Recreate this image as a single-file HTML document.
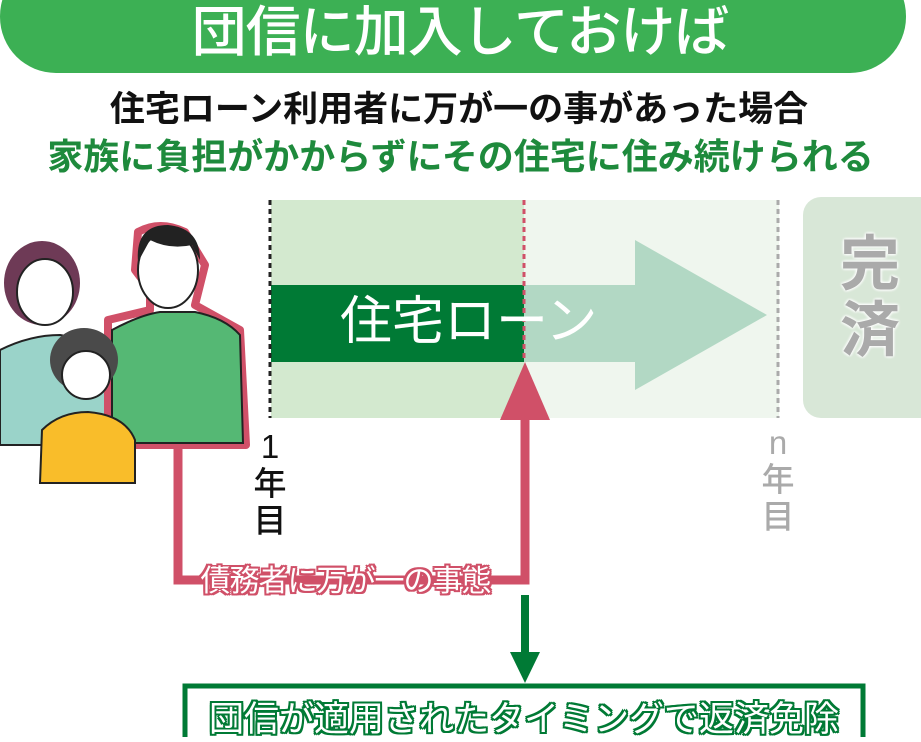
<!DOCTYPE html>
<html><head><meta charset="utf-8"><style>
body{margin:0;width:921px;height:737px;overflow:hidden;background:#fff;font-family:"Liberation Sans","Noto Sans CJK JP",sans-serif;position:relative}
.a{position:absolute}
.t{white-space:nowrap;text-align:center}
</style></head><body>
<div class="a" style="left:0;top:-40px;width:906px;height:113px;background:#3cb054;border-radius:56px"></div>
<div class="a t" style="left:0;top:1px;width:920px;font-size:55px;line-height:62px;color:#fff;font-weight:500;letter-spacing:-1px">団信に加入しておけば</div>
<div class="a t" style="left:0;top:90px;width:918px;font-size:35px;line-height:40px;color:#111;font-weight:bold">住宅ローン利用者に万が一の事があった場合</div>
<div class="a t" style="left:0;top:136px;width:921px;font-size:36px;line-height:42px;color:#1e8a3c;font-weight:bold">家族に負担がかからずにその住宅に住み続けられる</div>

<svg class="a" style="left:0;top:0" width="921" height="737">
<rect x="271" y="200" width="253" height="218" fill="#d3e9cf"/>
<rect x="524" y="200" width="255" height="218" fill="#eff6ee"/>
<rect x="524" y="285" width="112" height="77" fill="#b2d8c4"/>
<polygon points="635,240 767,315 635,390" fill="#b2d8c4"/>
<rect x="271" y="285" width="253" height="77" fill="#007a35"/>
<line x1="270" y1="200" x2="270" y2="418" stroke="#222" stroke-width="3" stroke-dasharray="5,4"/>
<line x1="524" y1="200" x2="524" y2="362" stroke="#d05068" stroke-width="3" stroke-dasharray="5,4"/>
<line x1="778" y1="200" x2="778" y2="418" stroke="#aaa" stroke-width="3" stroke-dasharray="5,4"/>
<rect x="803" y="197" width="140" height="221" rx="18" fill="#d8e7d7"/>
<path d="M0,350 Q30,335 60,335 Q95,340 115,360 L115,445 L0,445Z" fill="#9ad3c9" stroke="#222" stroke-width="2"/>
<ellipse cx="42" cy="283" rx="38" ry="42" fill="#6e3a56"/>
<ellipse cx="45" cy="292" rx="28" ry="33" fill="#fff" stroke="#222" stroke-width="2"/>
<path d="M108,320 L150,310 L150,290 L135,270 L138,232 Q160,220 185,232 L205,265 L195,305 L240,330 L246,445 L108,445Z" fill="none" stroke="#d05068" stroke-width="8" stroke-linejoin="round"/>
<path d="M112,330 Q140,315 160,312 L195,312 Q225,318 240,335 L243,443 L112,443Z" fill="#55b874" stroke="#222" stroke-width="2"/>
<ellipse cx="168" cy="270" rx="30" ry="38" fill="#fff" stroke="#222" stroke-width="2"/>
<path d="M138,262 Q135,225 168,225 Q200,228 200,260 L192,245 Q170,250 150,240Z" fill="#222"/>
<path d="M40,483 L42,430 Q60,412 88,412 Q125,415 135,440 L135,483Z" fill="#f9bd2a" stroke="#222" stroke-width="2"/>
<ellipse cx="84" cy="360" rx="34" ry="32" fill="#4a4a4a"/>
<ellipse cx="86" cy="375" rx="24" ry="24" fill="#fff" stroke="#222" stroke-width="2"/>
<path d="M178,445 L178,580 L525,580 L525,410" fill="none" stroke="#d05068" stroke-width="9"/>
<polygon points="525,362 500,420 550,420" fill="#d05068"/>
<line x1="525" y1="595" x2="525" y2="655" stroke="#007a35" stroke-width="8"/>
<polygon points="510,652 540,652 525,683" fill="#007a35"/>
<rect x="185" y="686" width="678" height="70" fill="#fff" stroke="#007a35" stroke-width="5"/>
</svg>

<div class="a t" style="left:340px;top:290px;font-size:52px;line-height:64px;color:#fff">住宅ローン</div>
<div class="a t" style="left:820px;top:232px;width:100px;font-size:60px;line-height:66px;color:#aaa;font-weight:bold;text-shadow:0 0 3px #fff,0 0 3px #fff,0 0 3px #fff">完<br>済</div>
<div class="a t" style="left:245px;top:428px;width:50px;font-size:33px;line-height:37px;color:#111;font-weight:500">1<br>年<br>目</div>
<div class="a t" style="left:753px;top:424px;width:50px;font-size:33px;line-height:37px;color:#aaa;font-weight:500">n<br>年<br>目</div>
<div class="a t" style="left:188px;top:564px;width:315px;font-size:30px;line-height:36px;color:#fff;letter-spacing:-1px;text-shadow:-2px 0 #d05068,2px 0 #d05068,0 -2px #d05068,0 2px #d05068,-2px -2px #d05068,2px 2px #d05068,-2px 2px #d05068,2px -2px #d05068">債務者に万が一の事態</div>
<div class="a t" style="left:185px;top:698px;width:678px;font-size:35px;line-height:44px;color:#fff;text-shadow:-2px 0 #007a35,2px 0 #007a35,0 -2px #007a35,0 2px #007a35,-2px -2px #007a35,2px 2px #007a35,-2px 2px #007a35,2px -2px #007a35">団信が適用されたタイミングで返済免除</div>
</body></html>
